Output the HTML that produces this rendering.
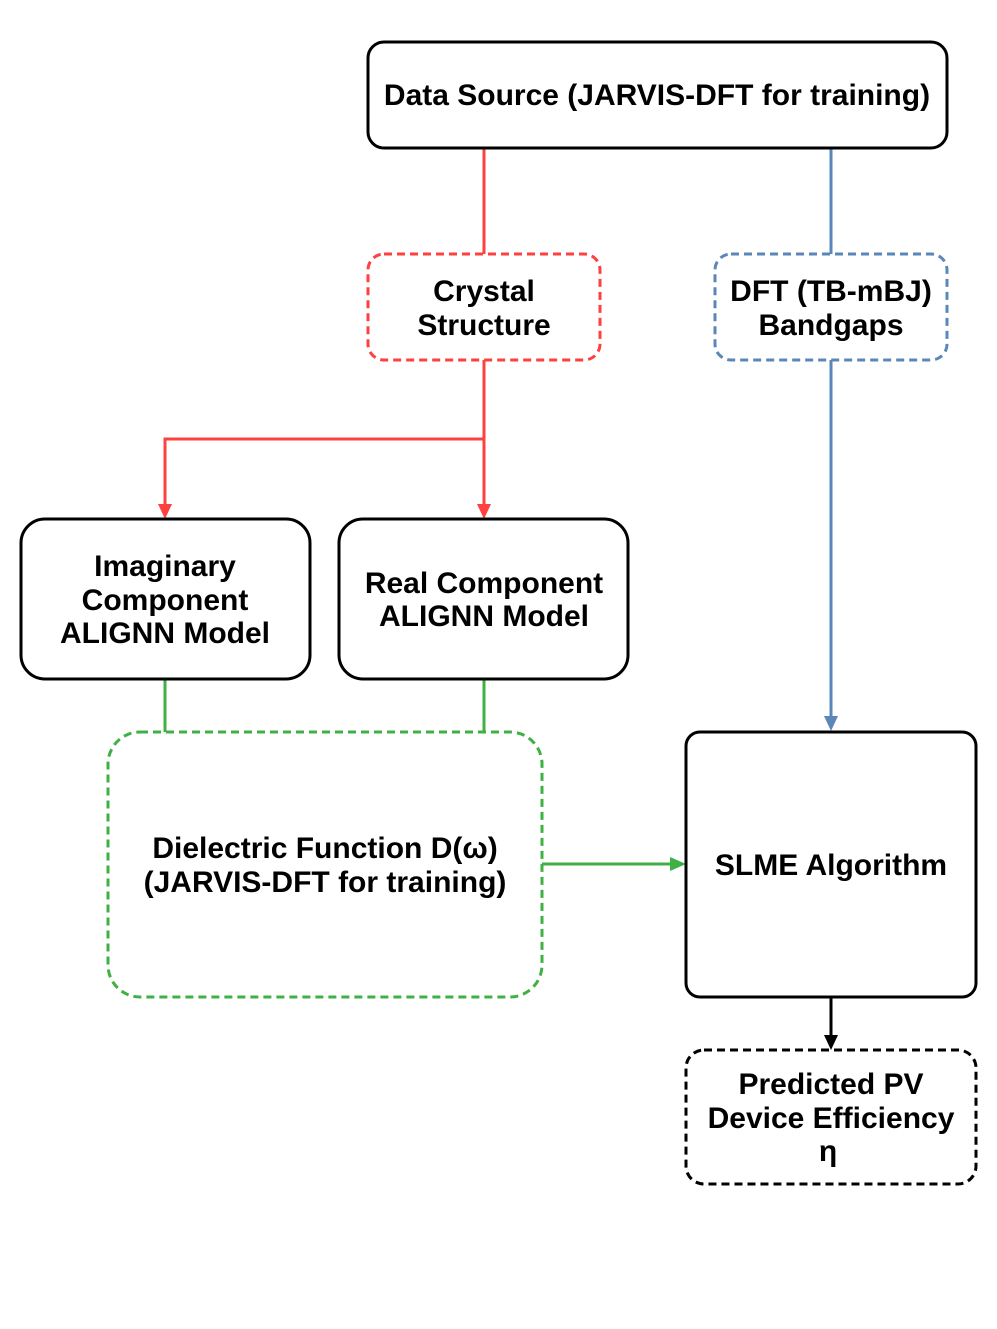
<!DOCTYPE html>
<html><head><meta charset="utf-8"><style>
html,body{margin:0;padding:0;background:#fff;}
svg{display:block;}
text{font-family:"Liberation Sans",Arial,sans-serif;font-weight:bold;font-size:30px;fill:#000;text-anchor:middle;}
</style></head><body>
<svg width="997" height="1329" viewBox="0 0 997 1329" xmlns="http://www.w3.org/2000/svg">
<g fill="none" stroke-width="3">
<path d="M484,148 V254" stroke="#ff4040"/>
<path d="M831,148 V254" stroke="#5b87b8"/>
<path d="M484,360 V439 H165 V506" stroke="#ff4040"/>
<path d="M484,439 V506" stroke="#ff4040"/>
<polygon points="158,504 172,504 165,519" fill="#ff4040" stroke="none"/>
<polygon points="477,504 491,504 484,519" fill="#ff4040" stroke="none"/>
<path d="M831,360 V718" stroke="#5b87b8"/>
<polygon points="824,716 838,716 831,731" fill="#5b87b8" stroke="none"/>
<path d="M165,679 V732 M484,679 V732" stroke="#3fb043"/>
<path d="M542,864 H672" stroke="#3fb043"/>
<polygon points="670,857 670,871 686,864" fill="#3fb043" stroke="none"/>
<path d="M831,997 V1036" stroke="#000"/>
<polygon points="824,1035 838,1035 831,1050" fill="#000" stroke="none"/>
</g>
<g fill="#fff" stroke-width="3">
<rect x="368" y="42" width="579" height="106" rx="16" stroke="#000"/>
<rect x="368" y="254" width="232" height="106" rx="16" stroke="#ff4040" stroke-dasharray="8,5"/>
<rect x="715" y="254" width="232" height="106" rx="16" stroke="#5b87b8" stroke-dasharray="8,5"/>
<rect x="21" y="519" width="289" height="160" rx="24" stroke="#000"/>
<rect x="339" y="519" width="289" height="160" rx="24" stroke="#000"/>
<rect x="108" y="732" width="434" height="265" rx="32" stroke="#3fb043" stroke-dasharray="8,5"/>
<rect x="686" y="732" width="290" height="265" rx="14" stroke="#000"/>
<rect x="686" y="1050" width="290" height="134" rx="18" stroke="#000" stroke-dasharray="8,5"/>
</g>
<text x="657" y="105">Data Source (JARVIS-DFT for training)</text>
<text x="484" y="301">Crystal</text>
<text x="484" y="335">Structure</text>
<text x="831" y="301">DFT (TB-mBJ)</text>
<text x="831" y="335">Bandgaps</text>
<text x="165" y="576">Imaginary</text>
<text x="165" y="610">Component</text>
<text x="165" y="643">ALIGNN Model</text>
<text x="484" y="593">Real Component</text>
<text x="484" y="626">ALIGNN Model</text>
<text x="325" y="858">Dielectric Function D(ω)</text>
<text x="325" y="892">(JARVIS-DFT for training)</text>
<text x="831" y="875">SLME Algorithm</text>
<text x="831" y="1094">Predicted PV</text>
<text x="831" y="1128">Device Efficiency</text>
<text x="828" y="1161">η</text>
</svg>
</body></html>
